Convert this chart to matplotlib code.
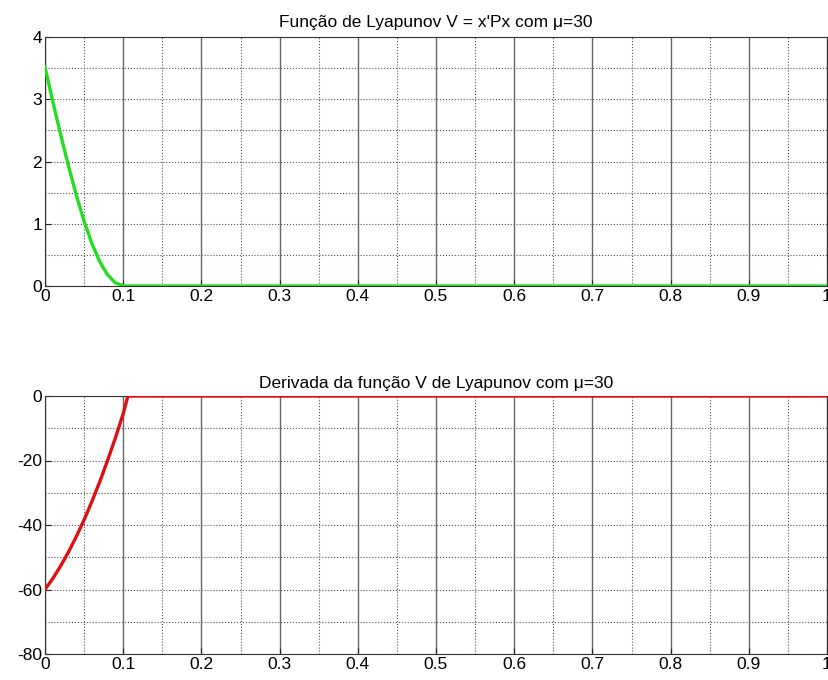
import matplotlib
matplotlib.use("Agg")
import matplotlib.pyplot as plt
import numpy as np

plt.rcParams['font.family'] = ['Liberation Sans', 'DejaVu Sans']
plt.rcParams['axes.unicode_minus'] = False

t_v = [0.0, 0.01, 0.02, 0.03, 0.04, 0.05, 0.06, 0.07, 0.08, 0.09, 0.1, 0.104, 1.0]
v_vals = [3.52, 2.96, 2.43, 1.93, 1.46, 1.04, 0.68, 0.39, 0.18, 0.05, 0.005, 0.0, 0.0]

t_dv = [0.0, 0.01, 0.02, 0.03, 0.04, 0.05, 0.06, 0.07, 0.08, 0.09, 0.1, 0.106, 1.0]
dv_vals = [-60, -56.6, -52.7, -48.4, -43.6, -38.4, -32.7, -26.6, -20, -13.0, -5.5, 0.0, 0.0]

title1 = "Função de Lyapunov V = x'Px com μ=30"
title2 = "Derivada da função V de Lyapunov com μ=30"

fig = plt.figure(figsize=(8.29, 6.8), dpi=100)
W, H = 829, 680
ax1 = fig.add_axes([45/W, 1-286/H, (827-45)/W, (286-37)/H])
ax2 = fig.add_axes([45/W, 1-654/H, (827-45)/W, (654-396)/H])

def style(ax, ylim, ymajor, yminor):
    ax.set_xlim(0, 1)
    ax.set_ylim(*ylim)
    ax.set_xticks(np.arange(0, 1.01, 0.1))
    ax.set_xticklabels(['0', '0.1', '0.2', '0.3', '0.4', '0.5', '0.6', '0.7', '0.8', '0.9', '1'])
    ax.set_yticks(ymajor)
    ax.set_xticks(np.arange(0.05, 1.0, 0.1), minor=True)
    ax.set_yticks(yminor, minor=True)
    ax.tick_params(axis='both', which='major', labelsize=12.5, direction='in', length=4, width=0.8, colors='#222222', labelcolor='black', pad=2)
    ax.tick_params(axis='both', which='minor', length=0)
    ax.grid(True, axis='x', which='major', color='#666666', linestyle='-', linewidth=1.0)
    ax.grid(True, axis='x', which='minor', color='#555555', linestyle=':', linewidth=0.8)
    ax.grid(True, axis='y', which='both', color='#555555', linestyle=':', linewidth=0.8)
    for s in ax.spines.values():
        s.set_color('#333333')
        s.set_linewidth(0.8)

ax1.plot(t_v, v_vals, color='#22dd22', linewidth=2.4, zorder=3)
style(ax1, (0, 4), [0, 1, 2, 3, 4], np.arange(0.5, 4, 1.0))
ax1.set_title(title1, fontsize=12.5, pad=7)

ax2.plot(t_dv, dv_vals, color='#dd1111', linewidth=2.4, zorder=3)
style(ax2, (-80, 0), [-80, -60, -40, -20, 0], np.arange(-70, 0, 20))
ax2.set_title(title2, fontsize=12.5, pad=6)

fig.savefig('out.png', dpi=100)
